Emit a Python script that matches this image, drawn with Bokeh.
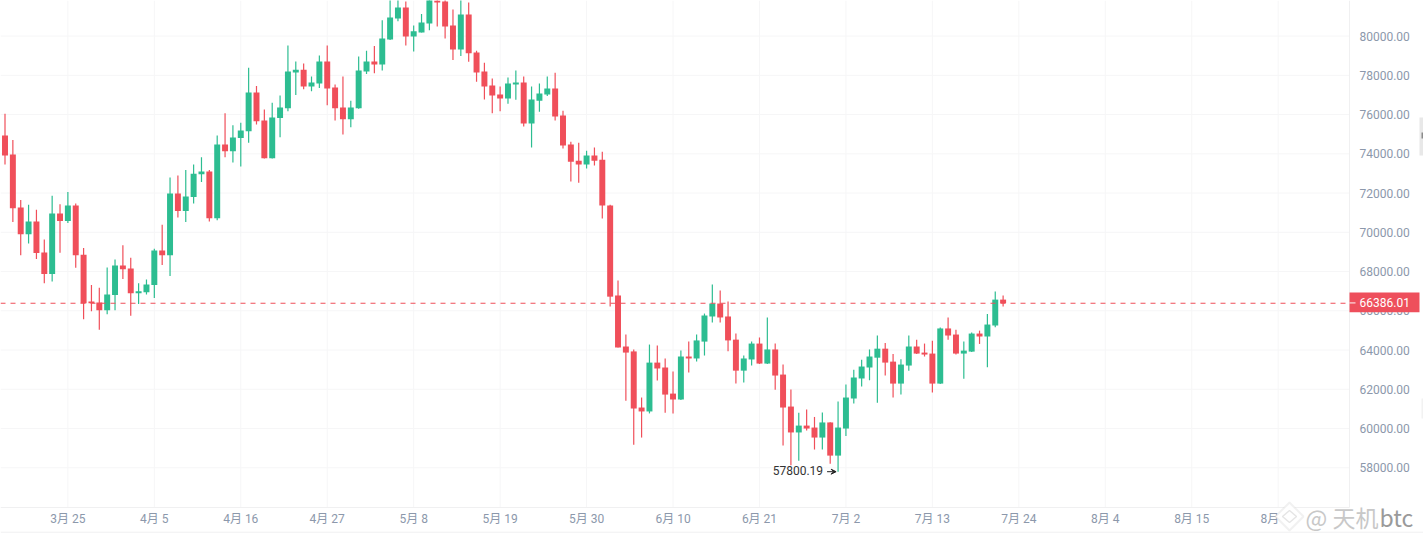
from bokeh.plotting import figure
from bokeh.models import (ColumnDataSource, Range1d, FixedTicker, Label, BoxAnnotation, Span,
                          NumeralTickFormatter, Arrow, VeeHead, PolyAnnotation)
from bokeh.core.properties import value
from bokeh.embed import file_html
from bokeh.resources import INLINE

opens = [74930,73970,71260,69900,70550,68970,67870,70960,70570,71370,
         68860,66470,66420,66030,66800,68310,68150,66900,66950,67310,
         69070,68830,71980,71080,71800,72960,73100,70720,74470,74130,
         74800,75150,77120,75700,73780,75820,76320,78140,78290,77430,
         77580,78700,77380,76360,75760,76320,78190,78700,78550,79830,
         80900,81460,79980,80180,80640,82100,81760,80540,79320,81100,
         79160,78190,77480,77020,76820,77530,77630,75540,76710,77020,
         77330,75950,74470,73650,73450,73910,73700,71360,66780,64180,
         63930,61070,60870,63360,63110,61780,61480,63670,63570,64430,
         65710,66370,65710,64530,62950,63520,64330,63310,64030,62750,
         61120,59800,60150,60050,59540,60310,58620,60000,61530,62550,
         63110,63610,64070,63410,62290,63210,64180,63870,63820,62290,
         65100,64790,63820,63920,64840,64690,65250,66570]
closes = [73915,71230,69900,70550,68940,67870,70960,70570,71370,68830,
          66380,66380,66030,66830,68310,68120,66900,66990,67340,69070,
          68830,71980,71080,71830,72990,73100,70720,74470,74130,74830,
          75190,77120,75660,73780,75850,76360,78190,78290,77430,77630,
          78700,77330,76320,75760,76360,78250,78700,78550,79880,80950,
          81460,79980,80240,80690,82100,81710,80490,79320,81100,79130,
          78140,77430,76970,76820,77580,77630,75540,76770,77070,77330,
          75900,74420,73600,73450,73910,73650,71360,66720,64130,63870,
          61020,60870,63360,63060,61730,61480,63670,63570,64490,65760,
          66370,65660,64490,62950,63570,64330,63310,64030,62700,61070,
          59800,60150,60000,59540,60310,58620,60050,61580,62600,63160,
          63670,64070,63360,62290,63260,64180,63820,63770,62290,65100,
          64740,63820,63970,64840,64690,65300,66570,66386.01]
highs = [76040,74710,71650,71400,71150,69630,71860,71430,72060,71470,
         69200,67320,67170,68210,68610,69340,68700,67410,67600,69160,
         70380,72790,72890,73180,73460,73830,73180,74930,76070,75460,
         75580,78380,77460,76260,76600,76970,79520,78700,78600,77940,
         79010,79520,77530,77940,76710,78960,79250,79490,80810,82600,
         81900,81760,80540,81120,82900,82500,81900,81350,82000,81710,
         79250,78640,77840,77430,77890,78250,77940,77430,77580,77940,
         78130,76200,74620,74560,74160,74320,74110,71410,67550,64790,
         64030,61580,64280,64230,63570,62910,63980,64430,64790,65860,
         67340,67030,66480,64840,63720,64430,64640,65660,64330,63260,
         61990,60800,60970,60590,60820,60320,61380,62240,63000,63500,
         64030,64740,64360,63800,63530,64740,64530,64330,64470,65150,
         65660,65030,64430,64890,64990,65840,66980,66780]
lows = [73460,70530,68830,69430,68640,67410,67490,68960,70470,68190,
        65570,65980,65030,65830,66030,67620,65750,66350,66830,66650,
        68340,67770,70760,70520,71470,72560,70550,70620,73830,73560,
        73350,74570,75490,73760,73760,74840,76170,77000,77290,77190,
        77360,76480,75700,74980,75350,76300,78070,78110,78250,79800,
        80760,79520,79210,80180,80300,80490,79880,78780,78980,78690,
        77670,76770,76070,76170,76550,76750,75390,74320,76140,76940,
        75700,74270,72590,72530,73250,73400,70700,66220,64130,61410,
        59170,59540,60770,62450,60810,60770,61460,62850,63410,63720,
        65400,65400,63940,62290,62340,63210,63290,63290,61970,59130,
        58130,58360,59900,58930,58930,58210,57800.19,59620,61270,62140,
        62460,61320,62700,61580,61730,62950,63800,63670,61830,62270,
        64520,63770,62540,63900,64310,63120,65160,66220]
tick_days = [8,19,30,41,52,63,74,85,96,107,118,129,140,151,162]
tick_labels = ["3月 25","4月 5","4月 16","4月 27","5月 8","5月 19","5月 30","6月 10",
               "6月 21","7月 2","7月 13","7月 24","8月 4","8月 15","8月 26"]
price_ticks = [58000,60000,62000,64000,66000,68000,70000,72000,74000,76000,78000,80000]
last_price = 66386.01
low_price = 57800.19
low_index = 106

RED = "#f04f5a"
GREEN = "#2dbd91"
GREY = "#8c98ab"
GRID = "#f6f6f7"
RULE = "#f0f0f1"
FONT = "Roboto, 'Noto Sans CJK SC', sans-serif"

# plot-area limits (the right-hand price column and bottom date row lie inside the full-canvas frame)
X0, X_END, X1 = -0.5726, 171.07, 180.49
Y_AXIS, Y_BOTTOM, Y_TOP = 55976, 54243, 81813
Y_RULE = 54717

idx = list(range(len(opens)))
colors = [RED if c < o else GREEN for o, c in zip(opens, closes)]
src = ColumnDataSource(dict(x=idx, open=opens, close=closes, high=highs, low=lows, color=colors))

p = figure(width=1423, height=541, output_backend="svg", toolbar_location=None,
           x_range=Range1d(X0, X1), y_range=Range1d(Y_BOTTOM, Y_TOP),
           y_axis_location="right", min_border=0,
           outline_line_color=None, background_fill_color="white")
p.grid.visible = False

p.segment(tick_days, Y_AXIS, tick_days, Y_TOP, line_color=GRID, line_width=1)
p.segment(X0, price_ticks, X_END, price_ticks, line_color=GRID, line_width=1)

p.segment("x", "high", "x", "low", source=src, color="color", line_width=1.2)
p.vbar("x", 0.76, "open", "close", source=src, fill_color="color", line_color=None)

xa = p.xaxis[0]
xa.fixed_location = Y_AXIS
xa.bounds = (X0, X_END)
xa.ticker = FixedTicker(ticks=tick_days)
xa.major_label_overrides = dict(zip(tick_days, tick_labels))
xa.major_tick_line_color = None
xa.minor_tick_line_color = None
xa.major_tick_out = 0
xa.major_tick_in = 0
xa.axis_line_color = RULE
xa.major_label_text_color = GREY
xa.major_label_text_font = FONT
xa.major_label_text_font_size = "12px"
xa.major_label_standoff = 5

ya = p.yaxis[0]
ya.fixed_location = X_END
ya.bounds = (Y_AXIS, Y_TOP)
ya.ticker = FixedTicker(ticks=price_ticks)
ya.formatter = NumeralTickFormatter(format="0.00")
ya.major_tick_line_color = None
ya.minor_tick_line_color = None
ya.major_tick_out = 0
ya.major_tick_in = 0
ya.axis_line_color = RULE
ya.major_label_text_color = GREY
ya.major_label_text_font = FONT
ya.major_label_text_font_size = "12px"
ya.major_label_standoff = 10

p.add_layout(Span(location=Y_RULE, dimension="width", line_color=RULE, line_width=1))

p.segment(X0, last_price, X_END, last_price, line_color=RED, line_dash="5 5", line_width=1.1)

p.text([low_index], [low_price], text=[f"{low_price:.2f}"], text_align="right",
       text_baseline="middle", x_offset=-15, y_offset=-1, text_color="#333333",
       text_font=value("Roboto"), text_font_size="12px")
p.add_layout(Arrow(x_start=low_index - 1.4, x_end=low_index - 0.25,
                   y_start=low_price, y_end=low_price, line_color="#222222", line_width=1,
                   end=VeeHead(size=5, line_color="#222222", line_width=1, fill_color="#222222")))

# price tag
p.add_layout(BoxAnnotation(left=1349, right=1419, left_units="screen", right_units="screen",
                           top=last_price + 545, bottom=last_price - 460,
                           fill_color="#ee4f5c", fill_alpha=1, line_color=None))
p.add_layout(BoxAnnotation(left=1349, right=1355, left_units="screen", right_units="screen",
                           top=last_price + 40, bottom=last_price - 10,
                           fill_color="white", fill_alpha=1, line_color=None))
p.add_layout(Label(x=1359, y=last_price, x_units="screen", y_units="data", y_offset=1,
                   text=f"{last_price:.2f}", text_color="white", text_font="Roboto",
                   text_font_size="12px", text_baseline="middle"))

# scroll tabs
p.add_layout(BoxAnnotation(left=1419, right=1423, left_units="screen", right_units="screen",
                           top=424, bottom=386, top_units="screen", bottom_units="screen",
                           fill_color="#e8e8e8", fill_alpha=1, line_color=None))
p.add_layout(BoxAnnotation(left=1421, right=1423, left_units="screen", right_units="screen",
                           top=409, bottom=403, top_units="screen", bottom_units="screen",
                           fill_color="#8a8a8a", fill_alpha=1, line_color=None))
p.add_layout(BoxAnnotation(left=1421, right=1423, left_units="screen", right_units="screen",
                           top=143, bottom=123, top_units="screen", bottom_units="screen",
                           fill_color="#f2f2f2", fill_alpha=1, line_color=None))

# watermark
p.add_layout(PolyAnnotation(xs=[1289, 1303, 1289, 1275], ys=[39, 25, 11, 25],
                            xs_units="screen", ys_units="screen", fill_color="white", fill_alpha=1,
                            line_color="#d0d0d0", line_width=2))
p.add_layout(PolyAnnotation(xs=[1289, 1296, 1289, 1282], ys=[31, 25, 19, 25],
                            xs_units="screen", ys_units="screen", fill_color="white", fill_alpha=1,
                            line_color="#a8a8a8", line_width=1.5))
p.add_layout(Label(x=1305, y=25, x_units="screen", y_units="screen", text="@ 天机",
                   text_color="#c8c8c8", text_font="Noto Sans CJK SC", text_font_size="23px",
                   text_baseline="middle"))
p.add_layout(Label(x=1379, y=25, x_units="screen", y_units="screen", text="btc",
                   text_color="#9a9a9a", text_font="Noto Sans CJK SC", text_font_size="23px",
                   text_baseline="middle"))

open("out.html", "w").write(file_html(p, INLINE))
